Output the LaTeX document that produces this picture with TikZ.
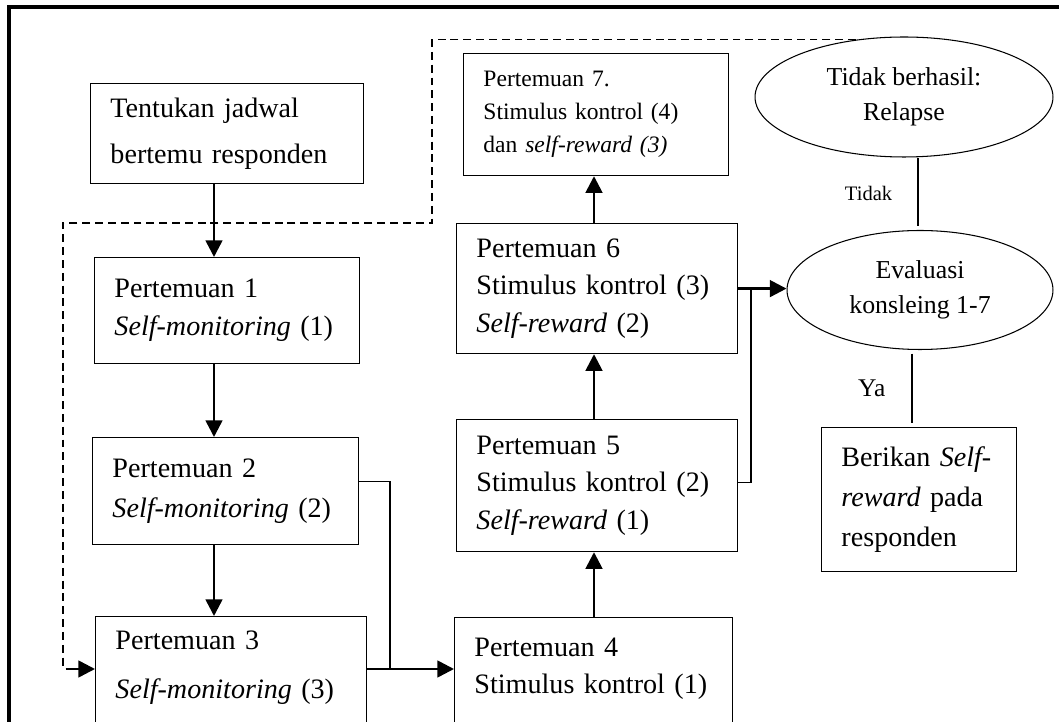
\documentclass[tikz,border=0pt]{standalone}
\usepackage{fontspec}
\setmainfont{Liberation Serif}
\usetikzlibrary{arrows.meta,shapes.geometric}
\begin{document}
\begin{tikzpicture}[x=0.02cm,y=-0.02cm,
   box/.style={draw,line width=0.7pt,anchor=north west,align=left,inner xsep=11.3pt,inner ysep=4.5pt,font=\fontsize{16}{21.5}\selectfont},
   oval/.style={draw,ellipse,line width=0.6pt,align=center,font=\fontsize{14.7}{19.8}\selectfont},
   arr/.style={-{Triangle[length=9.5pt,width=9.5pt]},line width=1.5pt},
   link/.style={line width=0.7pt},
   backline/.style={line width=0.7pt,dash pattern=on 4.5pt off 2.8pt}]
   \useasboundingbox (0,0) rectangle (1059,722);
   \clip (0,0) rectangle (1059,722);
   \draw[line width=1.8pt] (9,722) -- (9,7) -- (1059,7);
   \node[box,text width=4.67cm,minimum height=2cm,font=\fontsize{16}{26}\selectfont] (sched) at (90,83) {Tentukan jadwal\\bertemu responden};
   \node[box,text width=4.51cm,minimum height=2.12cm] (p1) at (94,257) {Pertemuan 1\\\textit{Self-monitoring} (1)};
   \node[box,text width=4.53cm,minimum height=2.14cm,font=\fontsize{16}{22.7}\selectfont] (p2) at (92,437) {Pertemuan 2\\\textit{Self-monitoring} (2)};
   \node[box,text width=4.63cm,inner ysep=8pt,font=\fontsize{16}{27.8}\selectfont] (p3) at (95,616) {Pertemuan 3\\\textit{Self-monitoring} (3)\rule[-60pt]{0pt}{60pt}};
   \node[box,text width=4.77cm,inner ysep=11.5pt,font=\fontsize{16}{21}\selectfont] (p4) at (454,617) {Pertemuan 4\\Stimulus kontrol (1)\rule[-60pt]{0pt}{60pt}};
   \node[box,text width=4.83cm,minimum height=2.64cm] (p5) at (456,419) {Pertemuan 5\\Stimulus kontrol (2)\\\textit{Self-reward} (1)};
   \node[box,text width=4.83cm,minimum height=2.6cm] (p6) at (456,223) {Pertemuan 6\\Stimulus kontrol (3)\\\textit{Self-reward} (2)};
   \node[box,text width=4.51cm,minimum height=2.44cm,font=\fontsize{13.4}{18.7}\selectfont] (p7) at (463,53) {Pertemuan 7.\\Stimulus kontrol (4)\\dan \textit{self-reward (3)}};
   \node[box,text width=3.11cm,minimum height=2.88cm,font=\fontsize{16}{22.7}\selectfont] (reward) at (821,427) {Berikan \textit{Self-}\\\textit{reward} pada\\responden};
   \node[oval,minimum width=5.96cm,minimum height=2.4cm] (relapse) at (904,97) {Tidak berhasil:\\Relapse};
   \node[oval,minimum width=5.32cm,minimum height=2.38cm] (eval) at (920,290) {Evaluasi\\konsleing 1-7};
   \coordinate (colA) at (214,0);
   \coordinate (colB) at (594,0);
   \coordinate (colC) at (918,0);
   \coordinate (colD) at (912,0);
   \coordinate (j23) at (390,669);
   \coordinate (j56) at (751,288);
   \coordinate (d1) at (432,223);
   \coordinate (d2) at (63,669);
   \draw[arr] (colA |- sched.south) -- (colA |- p1.north);
   \draw[arr] (colA |- p1.south) -- (colA |- p2.north);
   \draw[arr] (colA |- p2.south) -- (colA |- p3.north);
   \draw[arr] (colB |- p4.north) -- (colB |- p5.south);
   \draw[arr] (colB |- p5.north) -- (colB |- p6.south);
   \draw[arr] (colB |- p6.north) -- (colB |- p7.south);
   \draw[link] ([yshift=5.4pt]p2.east) -| (j23);
   \draw[arr] (p3.east |- j23) -- (p4.west |- j23);
   \draw[link] ([yshift=1.7pt]p5.east) -| (j56);
   \draw[arr] (p6.east) -- (p6.east -| eval.west);
   \draw[link,shorten >=2.5pt] (colC |- relapse.south) -- node[left=11pt,font=\fontsize{11.7}{14}\selectfont] (no) {Tidak} (colC |- eval.north);
   \draw[link,shorten <=2pt,shorten >=2pt] (colD |- eval.south) -- node[left=11.5pt,font=\fontsize{14.5}{17}\selectfont] (yes) {Ya} (colD |- reward.north);
   \draw[backline] (relapse.130) -| (d1) -| (d2);
   \draw[arr] ([xshift=1.5pt]d2) -- (d2 -| p3.west);
\end{tikzpicture}
\end{document}
